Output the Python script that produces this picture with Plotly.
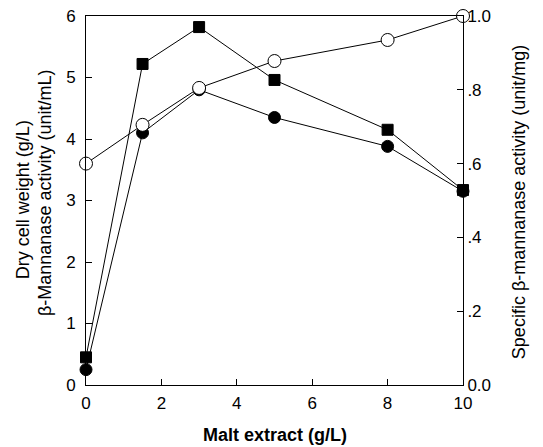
import plotly.graph_objects as go

malt = [0, 1.5, 3, 5, 8, 10]
dry_cell_weight = [0.25, 4.1, 4.8, 4.35, 3.88, 3.15]
mannanase_activity = [0.45, 5.22, 5.82, 4.96, 4.15, 3.17]
specific_activity = [0.60, 0.705, 0.805, 0.878, 0.935, 1.0]

x_ticks = [0, 2, 4, 6, 8, 10]
left_ticks = [0, 1, 2, 3, 4, 5, 6]
right_ticks = [0.0, 0.2, 0.4, 0.6, 0.8, 1.0]
right_labels = ["0.0", ".2", ".4", ".6", ".8", "1.0"]

FONT = "Liberation Sans, Arial, sans-serif"

fig = go.Figure()
fig.add_trace(go.Scatter(
    x=malt, y=dry_cell_weight, mode="lines+markers", name="Dry cell weight",
    line=dict(color="black", width=1), cliponaxis=False,
    marker=dict(symbol="circle", size=12, color="black", line=dict(color="black", width=1)),
))
fig.add_trace(go.Scatter(
    x=malt, y=specific_activity, mode="lines+markers", name="Specific activity", yaxis="y2",
    line=dict(color="black", width=1), cliponaxis=False,
    marker=dict(symbol="circle", size=13, color="white", line=dict(color="black", width=1)),
))
fig.add_trace(go.Scatter(
    x=malt, y=mannanase_activity, mode="lines+markers", name="beta-Mannanase activity",
    line=dict(color="black", width=1), cliponaxis=False,
    marker=dict(symbol="square", size=11, color="black", line=dict(color="black", width=1)),
))

axis_common = dict(
    ticks="inside", ticklen=6, tickcolor="black", showline=True, linecolor="black",
    linewidth=1, showgrid=False, zeroline=False, automargin=False,
    ticklabeloverflow="allow",
    tickfont=dict(size=17, family=FONT, color="black"),
)

# page body has an 8px margin, so the figure is shrunk by 8px on each axis
fig.update_layout(
    width=535, height=439,
    margin=dict(l=78, r=80, t=8, b=62, autoexpand=False),
    paper_bgcolor="white", plot_bgcolor="white",
    showlegend=False,
    font=dict(family=FONT, size=17, color="black"),
    xaxis=dict(range=[0, 10], tickvals=x_ticks, mirror=True, ticklabelstandoff=3, **axis_common),
    yaxis=dict(range=[0, 6], tickvals=left_ticks, ticklabelstandoff=6, **axis_common),
    yaxis2=dict(range=[0, 1.0], tickvals=right_ticks, ticktext=right_labels,
                overlaying="y", side="right", **axis_common),
    annotations=[
        dict(text="<b>Malt extract (g/L)</b>", xref="paper", yref="paper", x=0.501, y=-0.1355,
             xanchor="center", yanchor="middle", showarrow=False, font=dict(size=18)),
        dict(text="Dry cell weight (g/L)", xref="paper", yref="paper", x=-0.167, y=0.501,
             xanchor="center", yanchor="middle", textangle=-90, showarrow=False, font=dict(size=18)),
        dict(text="β-Mannanase activity (unit/mL)", xref="paper", yref="paper", x=-0.109, y=0.52,
             xanchor="center", yanchor="middle", textangle=-90, showarrow=False, font=dict(size=18)),
        dict(text="Specific β-mannanase activity (unit/mg)", xref="paper", yref="paper", x=1.149, y=0.496,
             xanchor="center", yanchor="middle", textangle=-90, showarrow=False, font=dict(size=18)),
    ],
)

fig.write_html("out.html")
